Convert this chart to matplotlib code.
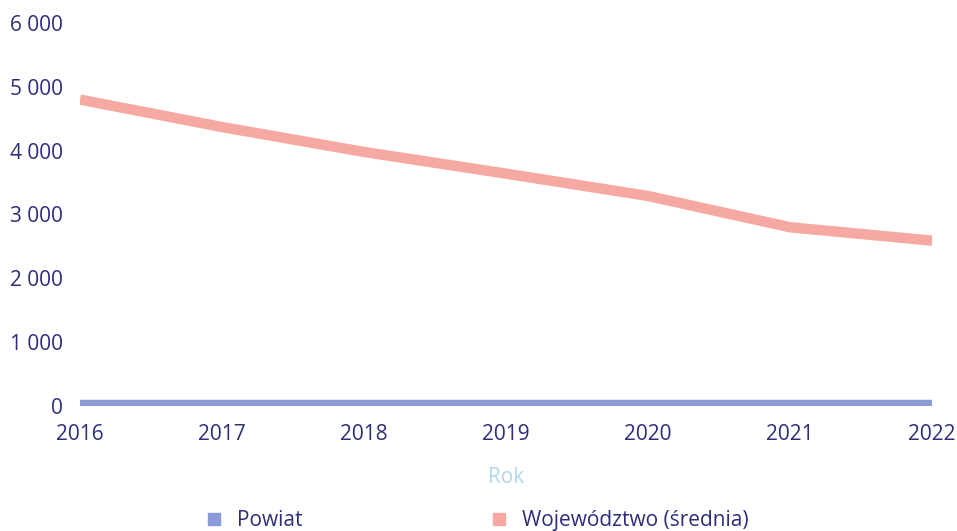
import matplotlib.pyplot as plt
from matplotlib.lines import Line2D
from matplotlib.ticker import FuncFormatter

years = [2016, 2017, 2018, 2019, 2020, 2021, 2022]
powiat = [20, 20, 20, 20, 20, 20, 20]
wojewodztwo = [4800, 4370, 3980, 3640, 3290, 2800, 2590]

tick_color = '#2e2d7a'
blue = '#8a9bd8'
pink = '#f5a9a2'

plt.rcParams['font.family'] = ['Open Sans', 'DejaVu Sans']

fig = plt.figure(figsize=(9.57, 5.31), dpi=100)
ax = fig.add_axes([0.0836, 0.2354, 0.974 - 0.0836, 0.9567 - 0.2354])

ax.plot(years, powiat, color=blue, lw=7.5, solid_capstyle='butt', solid_joinstyle='round')
ax.plot(years, wojewodztwo, color=pink, lw=7.5, solid_capstyle='butt', solid_joinstyle='round')

ax.set_xlim(2016, 2022)
ax.set_ylim(0, 6000)
ax.set_xticks(years)
ax.set_yticks(range(0, 6001, 1000))
ax.yaxis.set_major_formatter(FuncFormatter(lambda v, p: f'{int(v):,}'.replace(',', ' ')))
ax.tick_params(axis='both', length=0, labelsize=15, labelcolor=tick_color)
ax.tick_params(axis='y', pad=12)
ax.tick_params(axis='x', pad=13)
for s in ax.spines.values():
    s.set_visible(False)

ax.set_xlabel('Rok', fontsize=15, color='#b5d6ea', labelpad=16)

handles = [Line2D([], [], marker='s', ls='none', color=blue, markersize=8),
           Line2D([], [], marker='s', ls='none', color=pink, markersize=8)]
fig.legend(handles, ['Powiat', 'Województwo (średnia)'], loc='lower center',
           bbox_to_anchor=(0.492, -0.035), ncol=2, frameon=False, fontsize=15,
           labelcolor=tick_color, columnspacing=8.4, handletextpad=0.1)

fig.savefig('out.png', dpi=100)
